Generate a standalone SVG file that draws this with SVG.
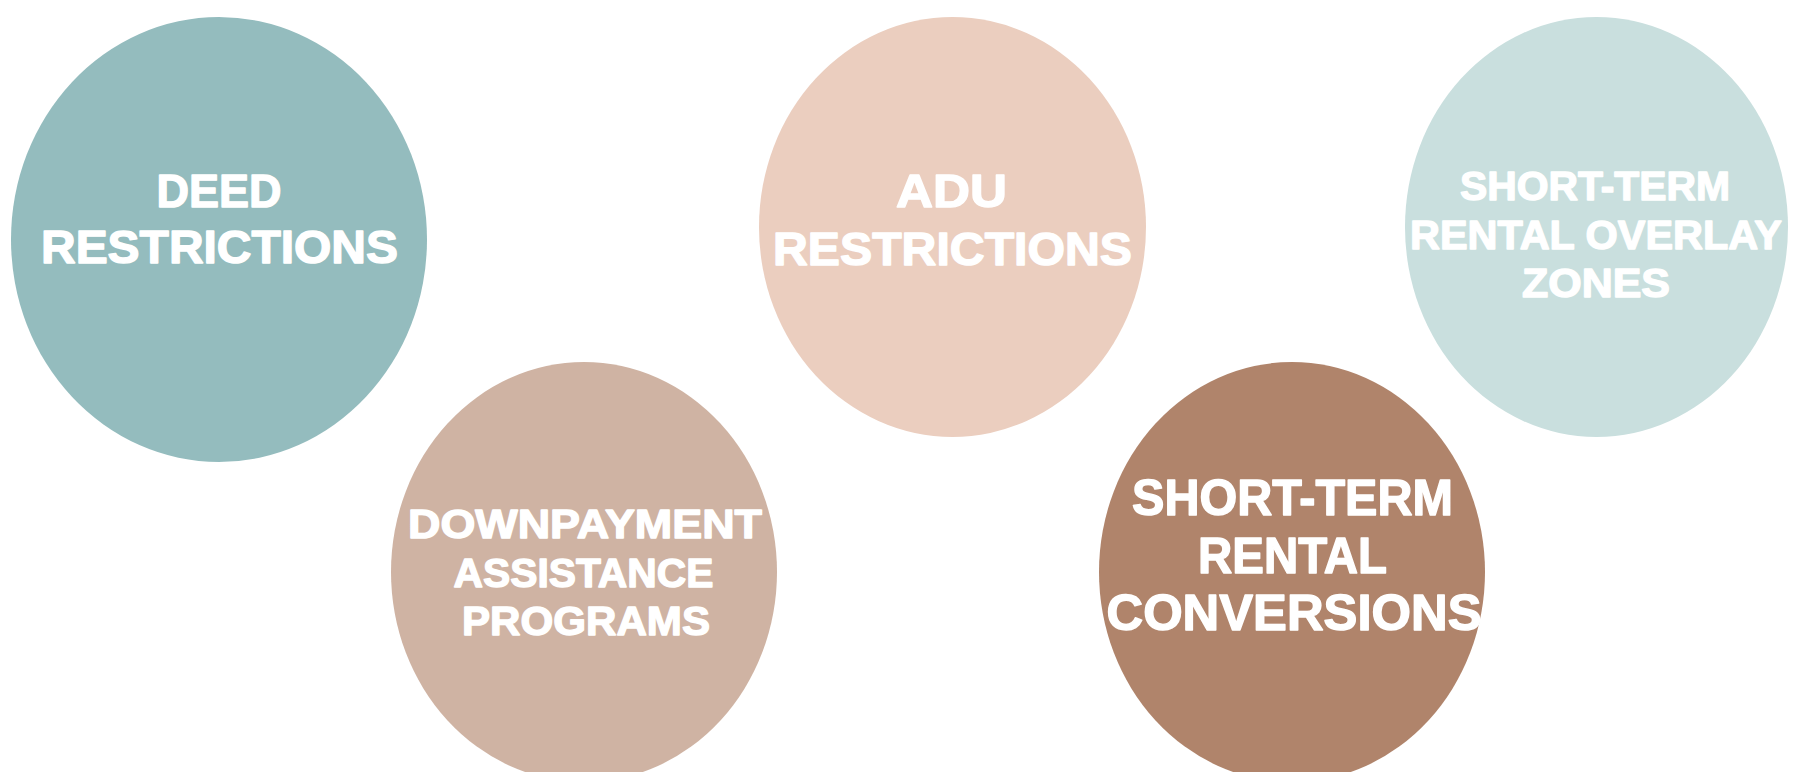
<svg xmlns="http://www.w3.org/2000/svg" width="1798" height="772" viewBox="0 0 1798 772">
  <style>
    .label { font-family: "Liberation Sans", Arial, sans-serif; font-weight: 700; fill: #ffffff; stroke: #ffffff; stroke-width: 1.4px; stroke-linejoin: round; text-anchor: middle; }
    .lg { font-size: 47px; }
    .md { font-size: 41px; }
    .xl { font-size: 50px; }
  </style>
  <rect width="1798" height="772" fill="#ffffff"/>

  <!-- no links between the bubbles -->
  <g id="connectors"/>

  <g id="deed-restrictions">
    <ellipse cx="219" cy="239.5" rx="208" ry="222.5" fill="#94bcbe"/>
    <text class="label lg" x="219" y="207" textLength="125" lengthAdjust="spacingAndGlyphs">DEED</text>
    <text class="label lg" x="219.5" y="263" textLength="357" lengthAdjust="spacingAndGlyphs">RESTRICTIONS</text>
  </g>

  <g id="adu-restrictions">
    <ellipse cx="952.5" cy="227" rx="193.5" ry="210" fill="#ebcebf"/>
    <text class="label lg" x="951.5" y="207" textLength="111" lengthAdjust="spacingAndGlyphs">ADU</text>
    <text class="label lg" x="952.5" y="265" textLength="359" lengthAdjust="spacingAndGlyphs">RESTRICTIONS</text>
  </g>

  <g id="str-overlay-zones">
    <ellipse cx="1596.5" cy="227" rx="191.5" ry="210" fill="#c9dfde"/>
    <text class="label md" x="1595" y="200" textLength="270" lengthAdjust="spacingAndGlyphs">SHORT-TERM</text>
    <text class="label md" x="1596" y="249" textLength="372" lengthAdjust="spacingAndGlyphs">RENTAL OVERLAY</text>
    <text class="label md" x="1596" y="297" textLength="148" lengthAdjust="spacingAndGlyphs">ZONES</text>
  </g>

  <g id="downpayment-assistance">
    <ellipse cx="584" cy="572" rx="193" ry="210" fill="#cfb3a3"/>
    <text class="label md" x="585" y="538" textLength="354" lengthAdjust="spacingAndGlyphs">DOWNPAYMENT</text>
    <text class="label md" x="583.5" y="587" textLength="260" lengthAdjust="spacingAndGlyphs">ASSISTANCE</text>
    <text class="label md" x="586" y="635" textLength="248" lengthAdjust="spacingAndGlyphs">PROGRAMS</text>
  </g>

  <g id="str-conversions">
    <ellipse cx="1292" cy="572" rx="193" ry="210" fill="#b0846b"/>
    <text class="label xl" x="1292.5" y="515" textLength="321" lengthAdjust="spacingAndGlyphs">SHORT-TERM</text>
    <text class="label xl" x="1292.5" y="573" textLength="189" lengthAdjust="spacingAndGlyphs">RENTAL</text>
    <text class="label xl" x="1294" y="630" textLength="375" lengthAdjust="spacingAndGlyphs">CONVERSIONS</text>
  </g>
</svg>
